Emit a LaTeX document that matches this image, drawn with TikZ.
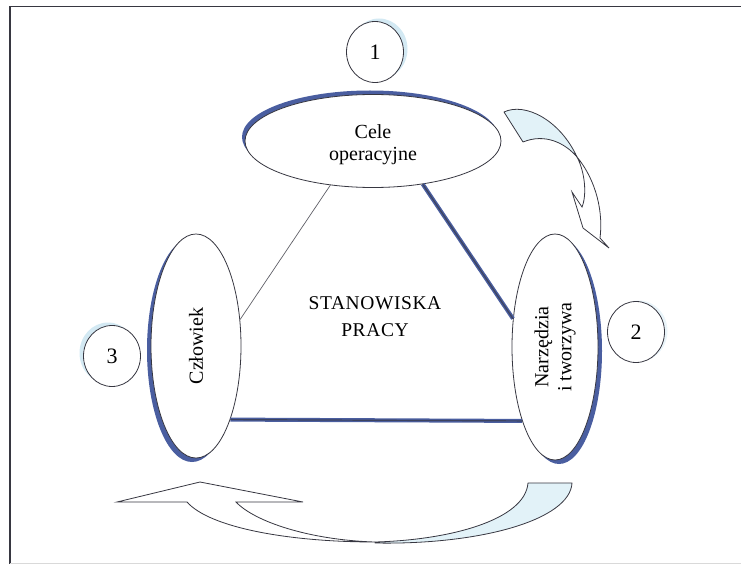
\documentclass[tikz,border=0pt]{standalone}
\usepackage{fontspec}
\setmainfont{Liberation Serif}
\newfontfamily\spacedserif{Liberation Serif}[LetterSpace=3]
\usepackage{graphicx}
\usetikzlibrary{shapes.geometric,shadows}

\definecolor{rimblue}{RGB}{74,94,160}
\definecolor{linedark}{RGB}{55,55,65}
\definecolor{paleblue}{RGB}{226,242,248}
\definecolor{haloblue}{RGB}{200,228,240}

\tikzset{
  oval/.style={ellipse, draw=linedark, line width=0.8pt, fill=white, inner sep=0pt,
    font=\fontsize{20}{24}\selectfont, align=center},
  ovaltext/.style={font=\fontsize{20}{22}\selectfont, align=center, inner sep=0pt},
  numcircle/.style={ellipse, draw=linedark, line width=0.8pt, fill=white, inner sep=0pt,
    minimum width=57pt, minimum height=61pt, font=\fontsize{22}{24}\selectfont},
  thinlink/.style={draw=linedark!80, line width=0.7pt},
  thicklink/.style={draw=rimblue, line width=4pt},
  thickcore/.style={draw=linedark!70!rimblue, line width=1.2pt},
  arrowtail/.style={fill=paleblue, draw=linedark, line width=0.8pt, line join=round},
  arrowfront/.style={fill=white, draw=linedark, line width=0.8pt, line join=miter},
}

\begin{document}
\begin{tikzpicture}[x=1pt,y=-1pt]
\useasboundingbox (0,0) rectangle (741,564);

% page frame
\draw[linedark, line width=1.6pt] (10,564) -- (10,6.5) -- (741,6.5);
\draw[black!15, line width=1pt] (10,563.5) -- (741,563.5);

% main ovals with their blue rims
\node[oval, minimum width=256pt, minimum height=93pt,
  drop shadow={shadow xshift=-3pt, shadow yshift=4pt, fill=rimblue, opacity=1}]
  (cele) at (373,141) {};
\node[ovaltext] (celetext) at ([yshift=-4pt]cele.center) {Cele\\operacyjne};
\node[oval, minimum width=86pt, minimum height=226pt,
  drop shadow={shadow xshift=4pt, shadow yshift=-4pt, fill=rimblue, opacity=1}]
  (narz) at (555,347) {\rotatebox{90}{\begin{tabular}{@{}c@{}}Narzędzia\\[-1pt]i tworzywa\end{tabular}}};
\node[oval, minimum width=90pt, minimum height=224pt,
  drop shadow={shadow xshift=-4pt, shadow yshift=-4pt, fill=rimblue, opacity=1}]
  (czl) at (196,346) {\rotatebox{90}{Człowiek}};

% triangle of links
\draw[thinlink] (cele.226) -- (czl.31.5);
\draw[thicklink] (cele.319) -- (narz.146);
\draw[thickcore] (cele.319) -- (narz.146);
\draw[thicklink] (czl.-65.5) -- (narz.-114.2);
\draw[thickcore] (czl.-65.5) -- (narz.-114.2);

% centre label
\node[font=\spacedserif\fontsize{19.5}{27}\selectfont, align=center] (stan) at (375,317)
  {STANOWISKA\\PRACY};

% numbered circles
\node[numcircle, drop shadow={shadow xshift=4pt, shadow yshift=3pt, fill=haloblue, opacity=0.8}]
  (n1) at (375,52) {1};
\node[numcircle, drop shadow={shadow xshift=3pt, shadow yshift=1pt, fill=haloblue, opacity=0.4}]
  (n2) at (636,332) {2};
\node[numcircle, drop shadow={shadow xshift=-4pt, shadow yshift=3pt, fill=haloblue, opacity=0.8}]
  (n3) at (112,356) {3};

% twisted block arrow, upper right
\filldraw[arrowtail] (504,112) .. controls (525,102) and (560,120) .. (577,157)
  .. controls (565,143) and (545,133) .. (523,142) -- cycle;
\filldraw[arrowfront] (577,157) .. controls (592,175) and (604,205) .. (600,238)
  -- (609,248) -- (583,228) -- (572,192) -- (582,207)
  .. controls (587,195) and (585,172) .. (577,157) -- cycle;

% twisted block arrow, bottom
\filldraw[arrowtail] (375,542) .. controls (450,540) and (525,520) .. (528,483)
  -- (572,483) .. controls (570,520) and (480,545) .. (375,543) -- cycle;
\filldraw[arrowfront] (375,542) .. controls (290,542) and (210,528) .. (187,502)
  -- (117,502) -- (200,482) -- (303,502) -- (236,502)
  .. controls (255,522) and (310,540) .. (375,542) -- cycle;
\end{tikzpicture}
\end{document}
